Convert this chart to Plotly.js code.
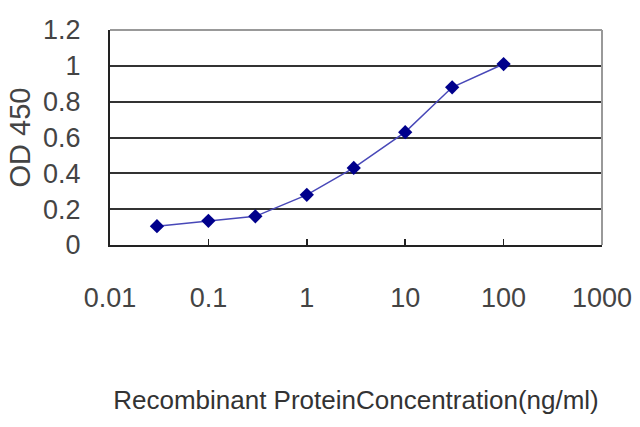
<!DOCTYPE html>
<html>
<head>
<meta charset="utf-8">
<script src="https://cdn.plot.ly/plotly-3.0.1.min.js"></script>
<style>html,body{margin:0;padding:0;background:#fff;}#chart{width:640px;height:427px;}</style>
</head>
<body>
<div id="chart"></div>
<script>
var concentration = [0.03, 0.1, 0.3, 1, 3, 10, 30, 100];
var od450 = [0.105, 0.135, 0.16, 0.28, 0.43, 0.63, 0.88, 1.01];
var xTickVals = [0.01, 0.1, 1, 10, 100, 1000];
var xTickText = ["0.01", "0.1", "1", "10", "100", "1000"];
var yTickVals = [0, 0.2, 0.4, 0.6, 0.8, 1, 1.2];
var yTickText = ["0", "0.2", "0.4", "0.6", "0.8", "1", "1.2"];

var trace = {
  x: concentration,
  y: od450,
  type: 'scatter',
  mode: 'lines+markers',
  line: {color: '#4848b8', width: 1.5},
  marker: {symbol: 'diamond', size: 11, color: '#00008c'},
  hoverinfo: 'none'
};

var font = "'Liberation Sans', Arial, sans-serif";

var layout = {
  width: 640,
  height: 427,
  margin: {l: 110, r: 38, t: 30, b: 182},
  paper_bgcolor: '#ffffff',
  plot_bgcolor: '#ffffff',
  showlegend: false,
  font: {family: font, color: '#333333'},
  xaxis: {
    type: 'log',
    range: [-2, 3],
    tickvals: xTickVals,
    ticktext: xTickText,
    ticks: 'inside',
    ticklen: 6,
    tickwidth: 1.5,
    tickcolor: '#222222',
    showgrid: false,
    zeroline: false,
    showline: true,
    linecolor: '#222222',
    linewidth: 2,
    ticklabelstandoff: 28,
    tickfont: {family: font, size: 27, color: '#444444'},
    title: {text: 'Recombinant ProteinConcentration(ng/ml)', font: {family: font, size: 26, color: '#333333'}, standoff: 78}
  },
  yaxis: {
    range: [0, 1.2],
    tickvals: yTickVals,
    ticktext: yTickText,
    ticks: '',
    showgrid: true,
    gridcolor: '#333333',
    gridwidth: 2,
    zeroline: false,
    showline: true,
    linecolor: '#222222',
    linewidth: 2,
    ticklabelstandoff: 22,
    tickfont: {family: font, size: 27, color: '#444444'},
    title: {text: 'OD 450', font: {family: font, size: 29, color: '#444444'}, standoff: 4}
  },
  shapes: [
    {type: 'line', xref: 'paper', yref: 'paper', x0: 0, x1: 1, y0: 1, y1: 1, line: {color: '#999999', width: 2}},
    {type: 'line', xref: 'paper', yref: 'paper', x0: 1, x1: 1, y0: 0, y1: 1, line: {color: '#999999', width: 2}}
  ]
};

Plotly.newPlot('chart', [trace], layout, {staticPlot: true, displayModeBar: false});
</script>
</body>
</html>
